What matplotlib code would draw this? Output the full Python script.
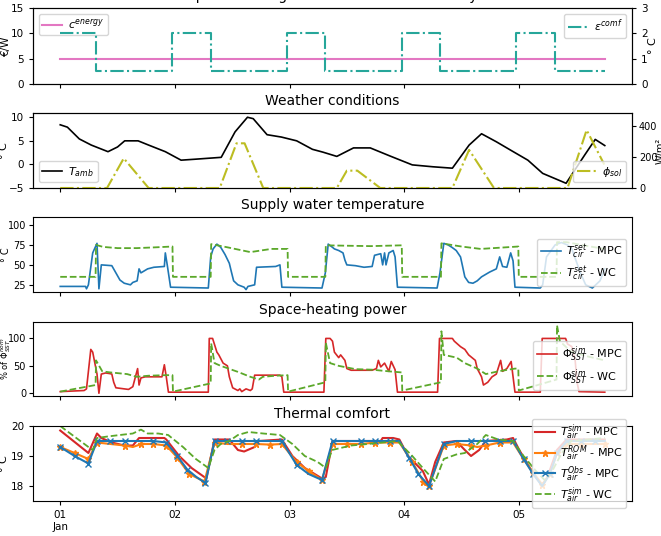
import matplotlib
matplotlib.use("Agg")
import matplotlib.pyplot as plt

plt.rcParams['font.size'] = 7.5
plt.rcParams['axes.titlesize'] = 10
plt.rcParams['axes.labelsize'] = 8
plt.rcParams['legend.fontsize'] = 8
plt.rcParams['legend.labelspacing'] = 0.25
plt.rcParams['legend.borderpad'] = 0.35
plt.rcParams['legend.handlelength'] = 1.8
plt.rcParams['legend.handletextpad'] = 0.5
plt.rcParams['xtick.major.size'] = 3
plt.rcParams['ytick.major.size'] = 3

# time axis: hours from 01 Jan 00:00
day_ticks = [0, 24, 48, 72, 96]
day_labels = ["01\nJan", "02", "03", "04", "05"]

# panel 1: cost and comfort flexibility
energy_t = [0, 114]
energy_v = [5, 5]
comf_t = [0, 7.5, 23.5, 31.5, 47.5, 55.5, 71.5, 79.5, 95.5, 103.5, 114]
comf_v = [2, 0.5, 2, 0.5, 2, 0.5, 2, 0.5, 2, 0.5, 0.5]

# panel 2: weather
tamb_t = [0, 1.5, 4, 6.5, 10, 12, 13.5, 16.3, 18.5, 22, 25.3, 28.2, 33.7, 36.6, 39.2, 40.4,
          43.3, 46.3, 49.5, 52.8, 55, 57.9, 61.4, 64.9, 69, 73.7, 78, 82.1, 85.6, 88.2, 91.3,
          94.5, 97.9, 101, 105.9, 109.8, 112, 114]
tamb_v = [8.4, 7.9, 5.4, 4.1, 2.7, 3.7, 5.0, 5.0, 4.1, 2.7, 0.9, 1.1, 1.5, 6.9, 10, 9.7,
          6.3, 5.8, 5.0, 3.2, 2.6, 1.7, 3.5, 3.5, 1.8, -0.1, -0.5, -0.8, 4.1, 6.5, 4.8,
          2.9, 0.9, -1.9, -4.0, 2.0, 5.3, 4.0]
sol_t = [0, 9.8, 13.3, 18.5, 33.4, 36.9, 38.6, 42.5, 57.9, 60.0, 62.2, 67.0, 82.1, 85.6,
         90.8, 106.2, 110.2, 113.9]
sol_v = [0, 0, 190, 0, 0, 286, 286, 0, 0, 111, 111, 0, 0, 244, 0, 0, 371, 150]

# panel 3: supply water temperature
tsup_mpc_t = [0, 5.3, 5.5, 5.9, 6.8, 7.7, 8.1, 8.6, 10.8, 12.5, 13.4, 14.7, 15.2, 16.1, 16.5,
              16.9, 18.3, 19.6, 21.8, 22.0, 22.4, 23.1, 31.0, 31.5, 32.0, 32.8, 33.6, 34.5,
              35.4, 35.8, 36.3, 37.2, 38.5, 38.9, 39.3, 40.7, 41.1, 45.1, 46.0, 46.4, 54.8,
              55.5, 56.1, 57.0, 57.4, 58.3, 59.2, 59.6, 60.0, 61.8, 63.6, 65.3, 65.8, 67.1,
              67.5, 67.9, 68.2, 68.8, 69.7, 70.1, 70.6, 78.9, 79.5, 80.3, 81.2, 82.0, 82.9,
              83.8, 84.2, 84.7, 85.5, 86.4, 87.3, 88.2, 89.9, 91.3, 92.0, 92.6, 93.5, 94.3,
              94.8, 95.2, 100.5, 101.0, 101.8, 103.6, 104.9, 106.2, 107.1, 108.0, 108.9,
              110.0, 111.4, 113.0, 114]
tsup_mpc_v = [23, 23, 20, 25, 65, 77, 20, 50, 49, 31, 27, 25, 28, 30, 45,
              40, 45, 47, 48, 65, 50, 22, 21, 60, 70, 76, 72, 63,
              52, 42, 30, 25, 22, 19, 23, 25, 47, 48, 50, 22, 21,
              40, 76, 72, 70, 68, 65, 56, 50, 49, 47, 48, 62, 64,
              50, 65, 50, 65, 68, 60, 22, 21, 40, 77, 75, 72, 68,
              60, 49, 35, 28, 27, 30, 35, 41, 45, 60, 48, 47, 65,
              55, 22, 21, 25, 60, 75, 78, 75, 70, 55, 40,
              25, 21, 30, 45]
tsup_wc_t = [0, 7.4, 7.5, 9, 12, 16, 20, 23.5, 23.6, 31.5, 31.6, 35, 39.8, 44.2, 47.6, 47.7,
             55.5, 55.6, 60, 65, 71.5, 71.6, 79.7, 79.8, 84, 88, 92, 95.9, 96, 103.9, 104,
             106, 110, 114]
tsup_wc_v = [35, 35, 75, 72.5, 71, 71, 72, 73, 35, 35, 76, 72, 66, 70, 70, 35,
             35, 74.5, 74, 73.5, 74.5, 35, 35, 77, 73, 70, 71.5, 73, 35, 35, 78.5,
             78.5, 74, 70]

# panel 4: space-heating power (% of nominal)
pow_mpc_t = [0, 5.0, 5.5, 6.4, 6.8, 7.25, 7.7, 8.1, 8.6, 9.5, 10.3, 10.8, 11.2, 11.65, 13.4,
             14.3, 15.2, 16.2, 16.5, 16.9, 17.8, 21.3, 21.8, 22.2, 22.65, 31.0, 31.2, 31.9,
             32.8, 33.2, 34.1, 35.0, 35.4, 36.1, 37.2, 37.6, 38.0, 38.9, 39.8, 40.2, 40.7,
             46.0, 46.4, 46.8, 55.2, 55.6, 56.5, 57.0, 57.4, 58.3, 58.7, 59.6, 60.0, 60.9,
             65.3, 66.2, 66.6, 67.1, 67.9, 68.8, 69.3, 70.1, 70.6, 79.0, 79.4, 82.1, 82.5,
             83.8, 84.7, 85.5, 86.9, 87.3, 88.2, 88.6, 89.5, 90.4, 91.3, 92.2, 92.6, 93.5,
             94.4, 94.8, 95.2, 100.5, 100.9, 105.8, 106.2, 107.1, 107.8, 108.2, 108.6, 114]
pow_mpc_v = [3, 5, 8, 80, 75, 55, 35, 0, 35, 37, 36, 35, 20, 10, 8,
             7, 12, 45, 15, 28, 30, 30, 52, 30, 2, 2, 100, 100,
             75, 70, 55, 50, 30, 10, 5, 8, 3, 8, 5, 8, 33,
             33, 30, 2, 2, 100, 100, 95, 75, 65, 70, 60, 45, 42,
             42, 45, 60, 48, 55, 40, 58, 43, 2, 2, 100, 100, 95,
             85, 80, 70, 60, 45, 30, 15, 20, 30, 35, 60, 40, 45,
             58, 30, 2, 2, 100, 100, 90, 85, 60, 20, 3, 2]
pow_wc_t = [0, 7.4, 7.5, 8.8, 10.5, 14, 16, 18.5, 22, 23.5, 23.6, 31.5, 31.6, 32.3, 33.6,
            37.2, 39.8, 41.6, 42.4, 45.1, 47.6, 47.7, 55.5, 55.6, 56.5, 58.3, 61.8, 65.3,
            68.8, 71.5, 71.6, 79.7, 79.8, 80.3, 83, 84.7, 87.3, 89.1, 91.7, 95.2, 95.9, 96,
            103.9, 104, 104.6, 106.9, 110, 114]
pow_wc_v = [3, 15, 60, 40, 38, 35, 30, 32, 33, 33, 3, 18, 91, 55, 50,
            39, 30, 25, 30, 32, 33, 3, 20, 92, 55, 50, 44, 43,
            40, 38, 5, 20, 113, 70, 65, 55, 45, 35, 40, 45, 45, 5,
            25, 124, 95, 76, 68, 60]

# panel 5: thermal comfort
tsim_mpc_t = [0, 5.9, 7.7, 8.6, 10.8, 13.4, 15.2, 16.5, 21.8, 22.2, 24.9, 27.5, 30.6, 32.3,
              35.4, 37.2, 38.5, 40.7, 41.6, 46.4, 48.6, 51.2, 54.8, 55.6, 57.0, 67.1, 67.5,
              69.7, 71.0, 72.8, 75.9, 77.2, 78.5, 80.3, 82.9, 84.7, 86.0, 87.7, 89.1, 93.5,
              94.8, 96.1, 98.7, 100.9, 102, 104, 106, 114]
tsim_mpc_v = [19.85, 19.1, 19.75, 19.6, 19.45, 19.35, 19.35, 19.6, 19.6, 19.55, 19.0, 18.6,
              18.25, 19.55, 19.55, 19.2, 19.15, 19.3, 19.5, 19.55, 19.0, 18.6, 18.25, 18.3,
              19.5, 19.5, 19.6, 19.6, 19.55, 19.0, 18.5, 18.05, 18.8, 19.45, 19.5, 19.2,
              19.0, 19.2, 19.5, 19.55, 19.6, 19.2, 18.5, 18.0, 18.3, 19.2, 19.55, 19.55]
trom_mpc_t = [0, 3, 5.9, 7.7, 10.5, 13.5, 15.2, 17, 19.5, 22.2, 24.5, 27, 30.2, 32.3, 35, 38,
              41, 44, 46.4, 49.5, 52, 54.8, 57.0, 60, 63, 66, 69, 71.0, 73.7, 76, 77.2, 80.3,
              83, 86, 87.3, 89.1, 92, 94.8, 97, 99, 100.9, 102.5, 104, 106, 109, 112, 114]
trom_mpc_v = [19.3, 19.1, 18.9, 19.45, 19.4, 19.35, 19.3, 19.4, 19.4, 19.35, 18.95, 18.4,
              18.15, 19.45, 19.4, 19.4, 19.4, 19.38, 19.4, 18.8, 18.5, 18.2, 19.4, 19.4, 19.4,
              19.45, 19.45, 19.45, 18.8, 18.15, 18.0, 19.35, 19.4, 19.35, 19.3, 19.35, 19.45,
              19.45, 18.9, 18.45, 18.05, 18.4, 19.1, 19.4, 19.4, 19.4, 19.4]
tobs_mpc_t = [0, 3, 5.9, 7.7, 10.5, 13.5, 16.5, 19.5, 22.2, 24.5, 26.6, 28.5, 30.4, 32.3, 35,
              38, 41, 44, 46.4, 49.5, 52, 54.8, 57.0, 60, 63, 66, 69, 71.0, 73, 75, 77.2,
              80.3, 83, 86, 89, 92, 94.8, 97, 99, 100.9, 102.5, 104, 106, 109, 112, 114]
tobs_mpc_v = [19.3, 19.0, 18.75, 19.5, 19.5, 19.5, 19.5, 19.5, 19.45, 19.0, 18.55, 18.3,
              18.1, 19.5, 19.5, 19.5, 19.5, 19.5, 19.5, 18.7, 18.4, 18.2, 19.5, 19.5, 19.5,
              19.5, 19.5, 19.5, 18.95, 18.4, 18.0, 19.4, 19.5, 19.5, 19.5, 19.5, 19.5, 18.9,
              18.4, 18.0, 18.4, 19.1, 19.5, 19.5, 19.5, 19.5]
tsim_wc_t = [0, 5.9, 6.8, 7.7, 9.9, 12.5, 15.2, 16.9, 18.3, 20.5, 22.6, 25.7, 28.4, 31.0,
             32.3, 33.6, 35.4, 37.2, 39.4, 42.5, 46.0, 48.6, 51.2, 53.9, 55.6, 56.9, 60.9,
             64.4, 67.5, 70.6, 73.7, 75.9, 78.5, 80.3, 82.9, 84.7, 87.3, 89.1, 91.7, 94.8,
             97.0, 99.6, 101.4, 103, 105, 107, 114]
tsim_wc_v = [20.0, 19.3, 19.2, 19.6, 19.65, 19.7, 19.75, 19.88, 19.75, 19.75, 19.7, 19.3,
             18.9, 18.6, 19.2, 19.4, 19.5, 19.7, 19.8, 19.75, 19.7, 19.4, 19.0, 18.8, 18.6,
             19.2, 19.35, 19.4, 19.45, 19.5, 19.0, 18.6, 18.15, 18.9, 19.05, 19.1, 19.4,
             19.7, 19.55, 19.5, 19.0, 18.5, 18.2, 18.5, 19.1, 19.5, 19.6]

wc_green = '#5ba82a'

fig = plt.figure(figsize=(6.61, 5.36), dpi=100)
W, H = 661.0, 536.0


def box(top, bottom):
    return [33 / W, 1 - bottom / H, 599 / W, (bottom - top) / H]


ax1 = fig.add_axes(box(8, 84))
ax2 = fig.add_axes(box(113, 188), sharex=ax1)
ax3 = fig.add_axes(box(217, 292), sharex=ax1)
ax4 = fig.add_axes(box(322, 396), sharex=ax1)
ax5 = fig.add_axes(box(426, 501), sharex=ax1)

# cost and comfort
ax1.set_title("Space-heating cost and comfort flexibility")
ax1.plot(energy_t, energy_v, color='#e377c2', lw=1.5, label=r'$c^{energy}$')
ax1.set_ylim(0, 15)
ax1.set_yticks([0, 5, 10, 15])
ax1.set_ylabel("€/W", fontsize=7.5)
ax1.yaxis.set_label_coords(-0.036, 0.5)
ax1.legend(loc='upper left')
ax1b = ax1.twinx()
ax1b.plot(comf_t, comf_v, color='#26a69a', lw=1.5, ls='-.', drawstyle='steps-post',
          label=r'$\epsilon^{comf}$')
ax1b.set_ylim(0, 3)
ax1b.set_yticks([0, 1, 2, 3])
ax1b.set_ylabel("° C")
ax1b.yaxis.set_label_coords(1.027, 0.5)
ax1b.legend(loc='upper right')

# weather
ax2.set_title("Weather conditions")
ax2.plot(tamb_t, tamb_v, color='black', lw=1.2, label=r'$T_{amb}$')
ax2.set_ylim(-5, 10.9)
ax2.set_yticks([-5, 0, 5, 10])
ax2.set_ylabel("° C")
ax2.yaxis.set_label_coords(-0.04, 0.5)
ax2.legend(loc='lower left')
ax2b = ax2.twinx()
ax2b.plot(sol_t, sol_v, color='#bcbd22', lw=1.5, ls='-.', label=r'$\phi_{sol}$')
ax2b.set_ylim(0, 480)
ax2b.set_yticks([0, 200, 400])
ax2b.tick_params(axis='y', labelsize=7, pad=2)
ax2b.set_ylabel("W/m²", fontsize=7)
ax2b.yaxis.set_label_coords(1.040, 0.5)
ax2b.legend(loc='lower right')

# supply temperature
ax3.set_title("Supply water temperature")
ax3.plot(tsup_mpc_t, tsup_mpc_v, color='C0', lw=1.2, label=r'$T_{cir}^{set}$ - MPC')
ax3.plot(tsup_wc_t, tsup_wc_v, color=wc_green, lw=1.3, ls='--', label=r'$T_{cir}^{set}$ - WC')
ax3.set_ylim(16, 110)
ax3.set_yticks([25, 50, 75, 100])
ax3.tick_params(axis='y', labelsize=7, pad=2)
ax3.set_ylabel("° C", fontsize=7)
ax3.yaxis.set_label_coords(-0.036, 0.5)
ax3.legend(loc='lower right')

# heating power
ax4.set_title("Space-heating power")
ax4.plot(pow_mpc_t, pow_mpc_v, color='C3', lw=1.2, label=r'$\Phi_{SST}^{sim}$ - MPC')
ax4.plot(pow_wc_t, pow_wc_v, color=wc_green, lw=1.3, ls='--', label=r'$\Phi_{SST}^{sim}$ - WC')
ax4.set_ylim(-5, 130)
ax4.set_yticks([0, 50, 100])
ax4.tick_params(axis='y', labelsize=7, pad=2)
ax4.set_ylabel(r"% of $\Phi_{SST}^{nom}$", fontsize=6)
ax4.yaxis.set_label_coords(-0.034, 0.5)
ax4.legend(loc='lower right')

# thermal comfort
ax5.set_title("Thermal comfort")
ax5.plot(tsim_mpc_t, tsim_mpc_v, color='C3', lw=1.5, label=r'$T_{air}^{sim}$ - MPC')
ax5.plot(trom_mpc_t, trom_mpc_v, color='C1', lw=1.5, marker='*', ms=5, markevery=0.03,
         label=r'$T_{air}^{ROM}$ - MPC')
ax5.plot(tobs_mpc_t, tobs_mpc_v, color='C0', lw=1.5, marker='x', ms=4, markevery=0.03,
         label=r'$T_{air}^{Obs}$ - MPC')
ax5.plot(tsim_wc_t, tsim_wc_v, color=wc_green, lw=1.3, ls='--', label=r'$T_{air}^{sim}$ - WC')
ax5.set_ylim(17.5, 20)
ax5.set_yticks([18, 19, 20])
ax5.set_ylabel("° C")
ax5.yaxis.set_label_coords(-0.04, 0.5)
ax5.legend(loc='center right', labelspacing=0.12, borderpad=0.3)

ax5.set_xticks(day_ticks)
ax5.set_xticklabels(day_labels)
for ax in [ax1, ax2, ax3, ax4]:
    ax.tick_params(axis='x', labelbottom=False)

plt.savefig("out.png", dpi=100)
